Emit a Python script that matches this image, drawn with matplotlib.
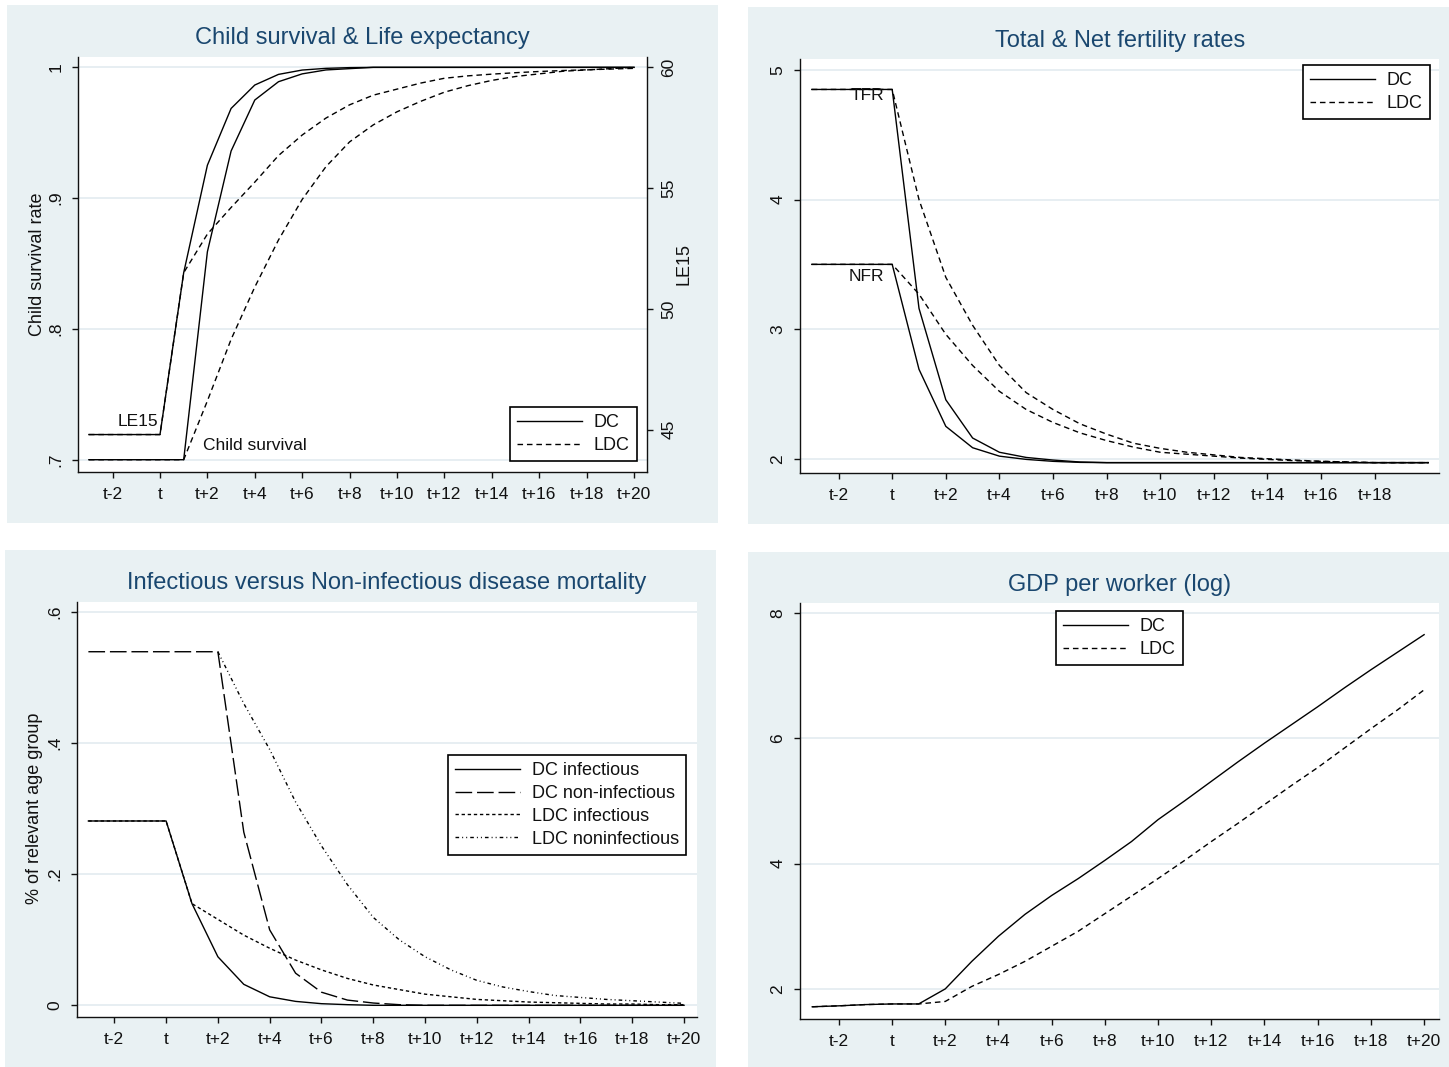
import matplotlib
matplotlib.use('Agg')
import matplotlib.pyplot as plt
import numpy as np
from matplotlib.patches import Rectangle
from matplotlib.lines import Line2D

# ---------------- data ----------------
periods = list(range(-3, 21))            # t-3 ... t+20
xtick_pos = [-2, 0, 2, 4, 6, 8, 10, 12, 14, 16, 18, 20]
xtick_lab = ['t-2', 't', 't+2', 't+4', 't+6', 't+8', 't+10', 't+12',
             't+14', 't+16', 't+18', 't+20']

# Panel 1: child survival (left axis) & LE15 (right axis)
cs_dc = [0.7, 0.7, 0.7, 0.7, 0.7, 0.859, 0.936, 0.975, 0.989, 0.995, 0.998, 0.999,
         1.0, 1.0, 1.0, 1.0, 1.0, 1.0, 1.0, 1.0, 1.0, 1.0, 1.0, 1.0]
cs_ldc = [0.7, 0.7, 0.7, 0.7, 0.7, 0.745, 0.792, 0.832, 0.868, 0.899, 0.924, 0.943,
          0.956, 0.966, 0.974, 0.981, 0.986, 0.990, 0.993, 0.995, 0.997, 0.998, 0.999, 1.0]
le15_dc = [44.8, 44.8, 44.8, 44.8, 51.5, 55.95, 58.3, 59.27, 59.71, 59.89, 59.96, 59.99,
           60, 60, 60, 60, 60, 60, 60, 60, 60, 60, 60, 60]
le15_ldc = [44.8, 44.8, 44.8, 44.8, 51.5, 53.1, 54.2, 55.25, 56.35, 57.2, 57.9, 58.45,
            58.85, 59.1, 59.35, 59.55, 59.65, 59.72, 59.78, 59.83, 59.87, 59.9, 59.93, 59.96]

# Panel 2: fertility
tfr_dc = [4.85, 4.85, 4.85, 4.85, 3.16, 2.455, 2.16, 2.05, 2.01, 1.99, 1.975, 1.97,
          1.97, 1.97, 1.97, 1.97, 1.97, 1.97, 1.97, 1.97, 1.97, 1.97, 1.97, 1.97]
nfr_dc = [3.5, 3.5, 3.5, 3.5, 2.69, 2.25, 2.085, 2.02, 1.995, 1.98, 1.972, 1.97,
          1.97, 1.97, 1.97, 1.97, 1.97, 1.97, 1.97, 1.97, 1.97, 1.97, 1.97, 1.97]
tfr_ldc = [4.85, 4.85, 4.85, 4.85, 4.0, 3.40, 3.03, 2.72, 2.51, 2.38, 2.27, 2.19,
           2.12, 2.08, 2.05, 2.03, 2.01, 2.0, 1.99, 1.98, 1.975, 1.97, 1.97, 1.97]
nfr_ldc = [3.5, 3.5, 3.5, 3.5, 3.27, 2.96, 2.72, 2.52, 2.38, 2.28, 2.2, 2.14,
           2.09, 2.05, 2.035, 2.02, 2.005, 1.995, 1.985, 1.98, 1.975, 1.97, 1.97, 1.97]

# Panel 3: mortality
inf_dc = [0.281, 0.281, 0.281, 0.281, 0.155, 0.074, 0.032, 0.013, 0.006, 0.0025, 0.001, 0.0,
          0, 0, 0, 0, 0, 0, 0, 0, 0, 0, 0, 0]
noninf_dc = [0.539, 0.539, 0.539, 0.539, 0.539, 0.539, 0.264, 0.115, 0.049, 0.02, 0.008, 0.0035,
             0.001, 0, 0, 0, 0, 0, 0, 0, 0, 0, 0, 0]
inf_ldc = [0.281, 0.281, 0.281, 0.281, 0.155, 0.131, 0.107, 0.087, 0.069, 0.054, 0.041, 0.031,
           0.024, 0.017, 0.013, 0.009, 0.007, 0.005, 0.004, 0.003, 0.002, 0.002, 0.001, 0.001]
noninf_ldc = [np.nan, np.nan, np.nan, np.nan, np.nan, 0.539, 0.46, 0.39, 0.31, 0.243, 0.184, 0.134,
              0.10, 0.074, 0.054, 0.038, 0.028, 0.021, 0.015, 0.012, 0.009, 0.007, 0.005, 0.003]

# Panel 4: GDP per worker (log)
gdp_dc = [1.715, 1.73, 1.75, 1.76, 1.76, 2.0, 2.44, 2.84, 3.19, 3.49, 3.76, 4.05,
          4.35, 4.70, 5.0, 5.31, 5.62, 5.92, 6.21, 6.5, 6.8, 7.09, 7.37, 7.65]
gdp_ldc = [1.715, 1.73, 1.75, 1.76, 1.76, 1.80, 2.04, 2.23, 2.44, 2.68, 2.92, 3.2,
           3.48, 3.76, 4.05, 4.35, 4.64, 4.94, 5.24, 5.53, 5.84, 6.15, 6.45, 6.77]

# ---------------- style ----------------
W, H = 1449, 1067
plt.rcParams['font.family'] = ['Liberation Sans', 'DejaVu Sans']
BG = '#E9F1F3'
GRID = '#E3EBF0'
TITLE_C = '#1A476F'
TXT = '#111111'
LW = 1.0
DASH = (4, 2.8)
LONGDASH = (12, 3.5)
SHORTDASH = (2.4, 2.0)
DASHDOT = (2.6, 2.2, 0.7, 2.2, 0.7, 2.2)

fig = plt.figure(figsize=(W / 100, H / 100), dpi=100)
fig.patch.set_facecolor('white')


def fx(x):
    return x / W


def fy(y):
    return 1 - y / H


for (x0, y0, x1, y1) in [(7, 5, 718, 523), (748, 7, 1449, 524),
                         (5, 550, 716, 1067), (748, 552, 1449, 1067)]:
    fig.add_artist(Rectangle((fx(x0), fy(y1)), (x1 - x0) / W, (y1 - y0) / H,
                             transform=fig.transFigure, facecolor=BG,
                             edgecolor='none', zorder=-10))


def add_ax(x0, y0, x1, y1):
    ax = fig.add_axes([fx(x0), fy(y1), (x1 - x0) / W, (y1 - y0) / H])
    ax.set_facecolor('white')
    for s in ['top', 'right']:
        ax.spines[s].set_visible(False)
    for s in ['left', 'bottom']:
        ax.spines[s].set_linewidth(1.0)
        ax.spines[s].set_color('#111111')
    ax.tick_params(axis='both', direction='out', length=4.5, width=1.0,
                   labelsize=12.5, colors='#111111', labelcolor=TXT)
    ax.tick_params(axis='y', labelrotation=90, pad=6)
    ax.tick_params(axis='x', pad=6)
    ax.grid(axis='y', color=GRID, lw=1.2)
    ax.set_axisbelow(True)
    return ax


def fix_ylabels(ax, ha='right'):
    for lab in ax.get_yticklabels():
        lab.set_va('center')
        lab.set_ha(ha)


def legend(ax, handles, labels, x0, y0):
    leg = ax.legend(handles, labels, loc='upper left',
                    bbox_to_anchor=(fx(x0), fy(y0)), bbox_transform=fig.transFigure,
                    frameon=True, fancybox=False, edgecolor='black', framealpha=1,
                    fontsize=13, borderpad=0.4, handlelength=3.6, handletextpad=0.65,
                    labelspacing=0.32, borderaxespad=0)
    leg.get_frame().set_linewidth(1.2)
    for t in leg.get_texts():
        t.set_color(TXT)
    return leg


def ftext(x, y, s, **kw):
    fig.text(fx(x), fy(y), s, **kw)


def line(style):
    if style is None:
        return Line2D([], [], color='black', lw=LW)
    return Line2D([], [], color='black', lw=LW, dashes=style)


# ---------------- Panel 1 ----------------
ax1 = add_ax(78, 57, 647, 472)
ax1.set_xlim(-3.46, 20.55)
ax1.set_ylim(0.6906, 1.0079)
ax1.set_xticks(xtick_pos)
ax1.set_xticklabels(xtick_lab)
ax1.set_yticks([0.7, 0.8, 0.9, 1.0])
ax1.set_yticklabels(['.7', '.8', '.9', '1'])
fix_ylabels(ax1)
ax1.plot(periods, cs_ldc, color='black', lw=LW, dashes=DASH)
ax1.plot(periods, cs_dc, color='black', lw=LW)

ax1b = ax1.twinx()
ax1b.set_ylim(43.25, 60.43)
for s in ['top', 'left', 'bottom']:
    ax1b.spines[s].set_visible(False)
ax1b.spines['right'].set_linewidth(1.0)
ax1b.spines['right'].set_color('#111111')
ax1b.set_yticks([45, 50, 55, 60])
ax1b.tick_params(axis='y', direction='out', length=4.5, width=1.0, labelsize=12.5,
                 colors='#111111', labelcolor=TXT, labelrotation=90, pad=6)
fix_ylabels(ax1b, ha='left')
ax1b.plot(periods, le15_ldc, color='black', lw=LW, dashes=DASH)
ax1b.plot(periods, le15_dc, color='black', lw=LW)
legend(ax1b, [line(None), line(DASH)], ['DC', 'LDC'], 510, 407)

ftext(362.5, 38, 'Child survival & Life expectancy', ha='center', va='center',
      fontsize=17, color=TITLE_C)
ftext(37, 264, 'Child survival rate', rotation=90, ha='center', va='center',
      fontsize=13, color=TXT)
ftext(684, 264, 'LE15', rotation=90, ha='center', va='center', fontsize=13, color=TXT)
ftext(158, 421, 'LE15', ha='right', va='center', fontsize=12.5, color=TXT)
ftext(203, 446, 'Child survival', ha='left', va='center', fontsize=12.5, color=TXT)

# ---------------- Panel 2 ----------------
ax2 = add_ax(800, 59, 1439, 473)
ax2.set_xlim(-3.44, 20.4)
ax2.set_ylim(1.89, 5.085)
ax2.set_xticks(xtick_pos[:-1])
ax2.set_xticklabels(xtick_lab[:-1])
ax2.set_yticks([2, 3, 4, 5])
fix_ylabels(ax2)
ax2.plot(periods, tfr_ldc, color='black', lw=LW, dashes=DASH)
ax2.plot(periods, nfr_ldc, color='black', lw=LW, dashes=DASH)
ax2.plot(periods, tfr_dc, color='black', lw=LW)
ax2.plot(periods, nfr_dc, color='black', lw=LW)
legend(ax2, [line(None), line(DASH)], ['DC', 'LDC'], 1303, 65)
ftext(1120, 41, 'Total & Net fertility rates', ha='center', va='center',
      fontsize=17, color=TITLE_C)
ftext(867, 96, 'TFR', ha='center', va='center', fontsize=12.5, color=TXT)
ftext(866, 276, 'NFR', ha='center', va='center', fontsize=12.5, color=TXT)

# ---------------- Panel 3 ----------------
ax3 = add_ax(77, 602, 697, 1017)
ax3.set_xlim(-3.44, 20.5)
ax3.set_ylim(-0.0178, 0.6148)
ax3.set_xticks(xtick_pos)
ax3.set_xticklabels(xtick_lab)
ax3.set_yticks([0, 0.2, 0.4, 0.6])
ax3.set_yticklabels(['0', '.2', '.4', '.6'])
fix_ylabels(ax3)
ax3.plot(periods, noninf_ldc, color='black', lw=LW, dashes=DASHDOT)
ax3.plot(periods, inf_ldc, color='black', lw=LW, dashes=SHORTDASH)
ax3.plot(periods, noninf_dc, color='black', lw=LW, dashes=LONGDASH)
ax3.plot(periods, inf_dc, color='black', lw=LW)
legend(ax3, [line(None), line(LONGDASH), line(SHORTDASH), line(DASHDOT)],
       ['DC infectious', 'DC non-infectious', 'LDC infectious', 'LDC noninfectious'],
       448, 755)
ftext(387, 583, 'Infectious versus Non-infectious disease mortality', ha='center',
      va='center', fontsize=17, color=TITLE_C)
ftext(35, 808, '% of relevant age group', rotation=90, ha='center', va='center',
      fontsize=13, color=TXT)

# ---------------- Panel 4 ----------------
ax4 = add_ax(800, 603, 1439, 1019)
ax4.set_xlim(-3.46, 20.56)
ax4.set_ylim(1.52, 8.155)
ax4.set_xticks(xtick_pos)
ax4.set_xticklabels(xtick_lab)
ax4.set_yticks([2, 4, 6, 8])
fix_ylabels(ax4)
ax4.plot(periods, gdp_ldc, color='black', lw=LW, dashes=DASH)
ax4.plot(periods, gdp_dc, color='black', lw=LW)
legend(ax4, [line(None), line(DASH)], ['DC', 'LDC'], 1056, 611)
ftext(1120, 585, 'GDP per worker (log)', ha='center', va='center',
      fontsize=17, color=TITLE_C)

fig.savefig('out.png', dpi=100, facecolor='white')
